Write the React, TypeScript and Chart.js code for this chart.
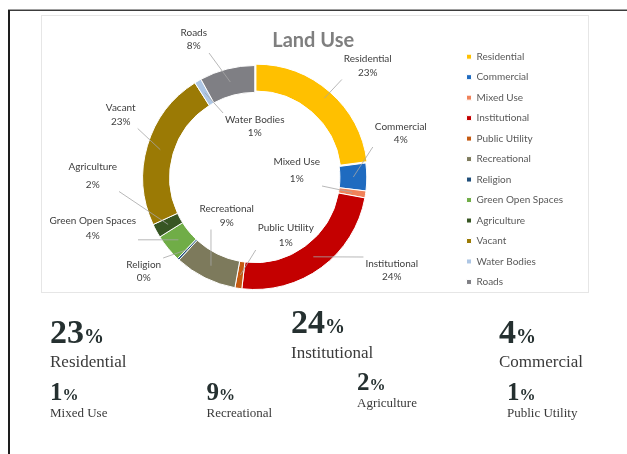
import React, { useEffect, useRef } from 'react';
import { Chart, registerables } from 'chart.js';

Chart.register(...registerables);

// ---- data ----
const CATEGORIES = [
  'Residential',
  'Commercial',
  'Mixed Use',
  'Institutional',
  'Public Utility',
  'Recreational',
  'Religion',
  'Green Open Spaces',
  'Agriculture',
  'Vacant',
  'Water Bodies',
  'Roads',
];
const SHARES = [23, 4, 1, 24, 1, 9, 0.3, 4, 2, 23, 1, 8];
const SUMMARY_CATEGORIES = [
  'Residential',
  'Institutional',
  'Commercial',
  'Mixed Use',
  'Recreational',
  'Agriculture',
  'Public Utility',
];

// ---- styles / layout ----
const SLICE_COLORS = [
  '#FFC000',
  '#1F6BC0',
  '#F0825A',
  '#C40000',
  '#C55A11',
  '#7D7A5C',
  '#1F4E79',
  '#70AD47',
  '#375623',
  '#9B7A05',
  '#ADC6E4',
  '#7F7F84',
];
const EXPLODE = [7, 0, 0, 0, 0, 0, 0, 0, 0, 0, 0, 0];
// label text centre relative to the doughnut centre: [dx, dy, line gap]
const LABEL_LAYOUT: [number, number, number][] = [
  [113, -112, 14],
  [146, -44, 13],
  [42, -7, 17],
  [137, 93, 13],
  [31, 58, 15],
  [-28, 38, 14],
  [-111, 94, 13],
  [-162, 51, 15],
  [-162, -2, 18],
  [-134, -63, 14],
  [0, -51, 13],
  [-61, -138, 13],
];
// summary blocks: left, number top, number size, % size, label top, label size
const SUMMARY_LAYOUT = [
  { left: 50, top: 314.5, num: 34, pct: 20, labelTop: 352.8, label: 17 },
  { left: 291, top: 304.8, num: 34, pct: 20, labelTop: 344, label: 17 },
  { left: 499, top: 314.8, num: 34, pct: 20, labelTop: 352.8, label: 17 },
  { left: 50, top: 379.1, num: 25, pct: 16, labelTop: 406.4, label: 13 },
  { left: 206.5, top: 379.1, num: 25, pct: 16, labelTop: 406.4, label: 13 },
  { left: 357, top: 369.1, num: 25, pct: 16, labelTop: 396.4, label: 13 },
  { left: 507, top: 379.1, num: 25, pct: 16, labelTop: 406.4, label: 13 },
];

const TOTAL = SHARES.reduce((a, b) => a + b, 0);
const pctOf = (v: number) => Math.round((v / TOTAL) * 100);

const leaderLabels = {
  id: 'leaderLabels',
  afterDatasetsDraw(chart: any) {
    const ctx = chart.ctx as CanvasRenderingContext2D;
    const meta = chart.getDatasetMeta(0);
    const values = chart.data.datasets[0].data as number[];
    const total = values.reduce((a, b) => a + b, 0);
    ctx.save();
    ctx.font = '10px Lato';
    meta.data.forEach((arc: any, i: number) => {
      const p = arc.getProps(['x', 'y', 'startAngle', 'endAngle', 'innerRadius', 'outerRadius'], true);
      const off = (arc.options && arc.options.offset) || 0;
      const mid = (p.startAngle + p.endAngle) / 2;
      const rA = (p.innerRadius + p.outerRadius) / 2 + off;
      const ax = p.x + Math.cos(mid) * rA;
      const ay = p.y + Math.sin(mid) * rA;
      const [dx, dy, gap] = LABEL_LAYOUT[i];
      const cx = p.x + dx;
      const cy = p.y + dy;
      const name = chart.data.labels[i] as string;
      const pct = Math.round((values[i] / total) * 100) + '%';
      const w = Math.max(ctx.measureText(name).width, ctx.measureText(pct).width);
      const hw = w / 2 + 2;
      const hh = gap / 2 + 7;
      const lx = Math.min(Math.max(ax, cx - hw), cx + hw);
      const ly = Math.min(Math.max(ay, cy - hh), cy + hh);
      ctx.strokeStyle = '#A6A6A6';
      ctx.lineWidth = 0.8;
      ctx.beginPath();
      ctx.moveTo(lx, ly);
      ctx.lineTo(ax, ay);
      ctx.stroke();
      ctx.fillStyle = '#404040';
      ctx.textAlign = 'center';
      ctx.textBaseline = 'middle';
      ctx.fillText(name, cx, cy - gap / 2);
      ctx.fillText(pct, cx, cy + gap / 2);
    });
    ctx.restore();
  },
};

function LandUseChart() {
  const ref = useRef<HTMLCanvasElement | null>(null);
  useEffect(() => {
    if (!ref.current) return;
    const chart = new Chart(ref.current, {
      type: 'doughnut',
      data: {
        labels: CATEGORIES,
        datasets: [
          {
            data: SHARES,
            backgroundColor: SLICE_COLORS,
            borderColor: '#ffffff',
            borderWidth: 1,
            offset: EXPLODE,
            hoverOffset: 0,
            radius: 112,
            cutout: '76%',
          } as any,
        ],
      },
      options: {
        responsive: false,
        animation: false,
        devicePixelRatio: 1,
        events: [],
        layout: { padding: { top: 0, left: 12.5, right: 16, bottom: 11.2 } },
        plugins: {
          title: {
            display: true,
            text: 'Land Use',
            color: '#7F7F7F',
            font: { family: 'Lato', size: 20, weight: 'bold', lineHeight: 1.2 },
            padding: { top: 13.5, bottom: -11.3 },
          },
          legend: {
            position: 'right',
            align: 'start',
            fullSize: false,
            labels: {
              boxWidth: 5,
              boxHeight: 5,
              padding: 10.48,
              color: '#595959',
              font: { family: 'Lato', size: 10 },
            },
          },
          tooltip: { enabled: false },
        },
      } as any,
      plugins: [leaderLabels],
    });
    return () => chart.destroy();
  }, []);
  return (
    <canvas
      ref={ref}
      width={548}
      height={310}
      style={{ position: 'absolute', left: 41, top: 15, width: 548, height: 310 }}
    />
  );
}

export default function App() {
  const serif = '"Liberation Serif", "Times New Roman", serif';
  return (
    <div
      style={{
        position: 'fixed',
        left: 0,
        top: 0,
        width: 627,
        height: 454,
        overflow: 'hidden',
        background: '#ffffff',
      }}
    >
      <div
        style={{
          position: 'absolute',
          left: 8,
          top: 9,
          width: 619,
          height: 2,
          background: 'linear-gradient(#a0a0a0 50%, #3c3c3c 50%)',
        }}
      />
      <div style={{ position: 'absolute', left: 8, top: 10, width: 2, height: 444, background: '#1e1e1e' }} />
      <div
        style={{
          position: 'absolute',
          left: 41,
          top: 15,
          width: 548,
          height: 278,
          border: '1px solid #e6e6e6',
          boxSizing: 'border-box',
          background: '#ffffff',
        }}
      />
      <LandUseChart />
      {SUMMARY_CATEGORIES.map((cat, i) => {
        const L = SUMMARY_LAYOUT[i];
        const v = pctOf(SHARES[CATEGORIES.indexOf(cat)]);
        return (
          <React.Fragment key={cat}>
            <div
              style={{
                position: 'absolute',
                left: L.left,
                top: L.top,
                fontFamily: serif,
                fontWeight: 'bold',
                fontSize: L.num,
                lineHeight: 1,
                color: '#253030',
                whiteSpace: 'nowrap',
              }}
            >
              {v}
              <span style={{ fontSize: L.pct }}>%</span>
            </div>
            <div
              style={{
                position: 'absolute',
                left: L.left,
                top: L.labelTop,
                fontFamily: serif,
                fontSize: L.label,
                lineHeight: 1,
                color: '#3a3a3a',
                whiteSpace: 'nowrap',
              }}
            >
              {cat}
            </div>
          </React.Fragment>
        );
      })}
    </div>
  );
}
